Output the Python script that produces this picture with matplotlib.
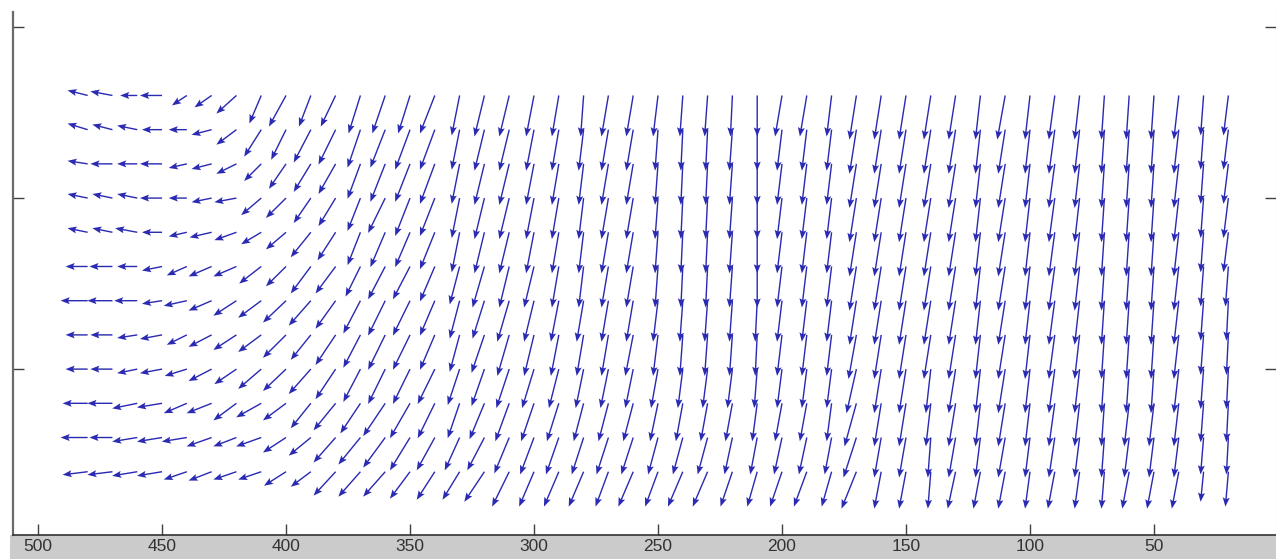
import numpy as np
import matplotlib.pyplot as plt
from matplotlib.patches import Rectangle

# grid of the field
x_cols = [480, 470, 460, 450, 440, 430, 420, 410, 400, 390, 380, 370, 360, 350, 340,
          330, 320, 310, 300, 290, 280, 270, 260, 250, 240, 230, 220, 210, 200, 190, 180,
          170, 160, 150, 140, 130, 120, 110, 100, 90, 80, 70, 60, 50, 40, 30, 20]
y_rows = [180, 170, 160, 150, 140, 130, 120, 110, 100, 90, 80, 70]
x_ticks = [500, 450, 400, 350, 300, 250, 200, 150, 100, 50]
y_ticks = [100, 150, 200]

# vector components, one list per row (top row first)
u_rows = [
    [8.1, 8.9, 6.9, 8.9, 6.0, 6.9, 8.1, 4.8, 6.9, 4.8, 6.0, 4.8, 5.2, 4.8, 6.0,
     3.2, 4.0, 4.0, 3.2, 2.8, 1.2, 2.8, 2.8, 2.0, 1.2, 1.2, 0.8, 0.0, 2.8, 2.8, 2.0,
     2.8, 2.8, 2.8, 2.8, 2.8, 2.0, 3.2, 2.0, 2.4, 2.0, 1.2, 1.2, 1.2, 2.0, 1.2, 2.0],
    [8.1, 8.1, 8.1, 8.1, 7.3, 8.1, 8.1, 6.9, 6.0, 6.9, 6.9, 5.2, 6.0, 6.0, 6.0,
     3.2, 4.0, 4.0, 3.2, 2.8, 2.0, 2.8, 2.8, 1.2, 0.8, 0.8, 1.2, 0.0, 2.0, 2.0, 2.0,
     2.8, 2.8, 2.8, 2.8, 2.8, 2.0, 2.8, 2.0, 2.4, 2.0, 1.2, 1.2, 1.2, 2.0, 1.2, 2.0],
    [8.1, 8.9, 8.1, 8.9, 7.3, 8.1, 8.1, 6.9, 6.9, 6.9, 6.9, 5.2, 6.0, 6.0, 6.0,
     3.2, 4.0, 4.0, 3.2, 2.8, 2.0, 2.8, 2.8, 1.2, 0.8, 0.8, 1.2, 0.0, 2.0, 2.0, 2.0,
     2.8, 2.8, 2.8, 2.8, 2.8, 2.0, 2.8, 2.0, 2.4, 2.0, 1.2, 1.2, 1.2, 2.0, 1.2, 2.0],
    [8.1, 8.1, 8.1, 8.9, 7.3, 8.1, 8.9, 8.1, 8.1, 6.9, 6.9, 5.2, 6.9, 6.0, 6.0,
     3.2, 4.0, 4.0, 3.2, 2.8, 2.0, 2.8, 2.8, 1.2, 0.8, 0.8, 1.2, 0.0, 2.0, 2.0, 2.0,
     2.8, 2.8, 2.8, 2.8, 2.8, 2.0, 2.8, 2.0, 2.4, 2.0, 1.2, 1.2, 1.2, 2.0, 1.2, 2.0],
    [8.1, 8.1, 8.9, 8.1, 7.3, 8.9, 8.9, 8.1, 8.1, 8.1, 7.3, 5.2, 6.0, 6.0, 6.0,
     3.2, 4.0, 4.0, 3.2, 2.8, 2.0, 2.8, 2.8, 1.2, 0.8, 0.8, 1.2, 0.0, 2.0, 2.0, 2.0,
     2.8, 2.8, 2.8, 2.8, 2.8, 2.0, 2.8, 2.0, 2.4, 2.0, 1.2, 1.2, 1.2, 2.0, 1.2, 2.0],
    [8.9, 9.3, 8.1, 8.1, 8.1, 9.3, 9.3, 8.9, 8.1, 8.1, 8.1, 6.0, 6.9, 6.9, 6.0,
     4.0, 4.8, 4.0, 4.0, 2.8, 2.0, 2.8, 2.8, 1.2, 0.8, 0.8, 1.2, 0.0, 2.0, 2.0, 2.0,
     2.8, 2.8, 2.8, 2.8, 2.8, 2.0, 2.8, 2.0, 2.4, 2.0, 1.2, 1.2, 1.2, 2.0, 1.2, 1.2],
    [10.9, 10.1, 9.3, 8.1, 9.3, 9.3, 9.3, 9.3, 9.3, 8.9, 8.1, 6.9, 6.9, 6.9, 6.0,
     4.0, 4.8, 4.8, 4.0, 3.2, 2.8, 2.8, 2.8, 2.0, 1.2, 1.2, 1.2, 0.8, 2.0, 2.0, 2.0,
     2.8, 2.8, 2.8, 2.8, 2.8, 2.0, 2.8, 2.0, 2.4, 2.0, 1.2, 1.2, 1.2, 2.0, 1.2, 0.8],
    [8.9, 8.9, 8.1, 8.9, 8.1, 9.3, 9.3, 9.3, 9.3, 8.1, 8.1, 6.9, 6.9, 6.9, 6.0,
     4.0, 5.2, 4.8, 4.0, 3.2, 2.8, 2.8, 3.2, 2.0, 1.2, 1.2, 1.2, 0.8, 2.0, 2.0, 2.0,
     3.2, 2.8, 2.8, 2.8, 2.8, 2.0, 2.8, 2.0, 2.4, 2.0, 1.2, 1.2, 1.2, 2.0, 1.2, 0.8],
    [8.9, 8.9, 8.1, 8.9, 8.9, 9.3, 8.9, 9.3, 9.3, 8.9, 8.1, 6.9, 6.9, 6.9, 6.9,
     4.8, 5.2, 5.2, 4.8, 4.0, 3.2, 3.2, 3.2, 2.8, 2.0, 2.0, 2.0, 1.2, 2.0, 2.0, 2.0,
     4.0, 2.8, 2.8, 2.0, 2.8, 2.0, 2.8, 2.0, 2.4, 2.0, 1.2, 1.2, 1.2, 2.0, 1.2, 0.8],
    [10.1, 10.1, 10.1, 10.1, 9.3, 10.1, 9.3, 10.1, 9.3, 8.1, 8.9, 8.1, 8.9, 8.1, 6.9,
     4.8, 6.0, 5.6, 5.2, 4.8, 4.0, 4.0, 4.0, 3.2, 2.8, 2.8, 2.8, 2.0, 2.8, 2.8, 2.0,
     4.8, 2.8, 2.8, 2.0, 2.8, 2.0, 2.8, 2.0, 2.4, 2.0, 1.2, 2.0, 2.0, 2.0, 1.2, 0.8],
    [10.9, 9.3, 10.1, 10.1, 10.1, 10.1, 9.3, 10.1, 9.3, 8.9, 8.9, 8.9, 8.9, 8.1, 7.3,
     6.0, 6.9, 6.0, 5.6, 5.2, 4.8, 4.8, 4.8, 4.0, 4.0, 4.0, 3.2, 2.8, 3.2, 3.2, 2.8,
     5.2, 2.8, 2.8, 1.2, 2.8, 2.0, 2.8, 2.0, 2.4, 2.0, 1.2, 2.0, 2.0, 2.0, 1.2, 0.8],
    [10.1, 10.1, 10.1, 10.1, 9.3, 9.3, 9.3, 9.3, 8.9, 8.1, 8.9, 8.9, 8.9, 8.1, 7.3,
     6.9, 8.1, 6.9, 6.0, 6.0, 6.0, 5.2, 6.0, 5.2, 6.0, 6.0, 4.8, 4.0, 4.8, 5.2, 4.0,
     6.0, 2.8, 2.8, 1.2, 3.2, 2.8, 2.8, 2.0, 2.8, 2.0, 1.2, 2.8, 2.8, 2.8, 1.2, 1.2],
]

v_rows = [
    [1.5, 1.2, 0.0, 0.0, -2.9, -3.5, -5.3, -8.2, -9.1, -9.1, -9.1, -11.1, -11.1, -11.1, -11.1,
     -11.7, -12.0, -12.0, -12.0, -12.0, -12.0, -12.0, -12.0, -12.0, -12.0, -12.0, -12.0, -12.0, -12.0, -12.0, -12.0,
     -12.9, -12.9, -12.9, -12.9, -12.9, -12.9, -12.9, -12.9, -12.9, -12.9, -12.9, -12.9, -12.9, -12.9, -11.7, -11.7],
    [1.8, 1.5, 1.2, 0.0, 0.0, -1.5, -4.4, -7.9, -8.8, -9.6, -10.2, -11.1, -11.1, -11.7, -11.7,
     -11.7, -12.0, -12.0, -12.0, -12.0, -12.0, -12.0, -12.0, -12.0, -12.0, -12.0, -12.0, -12.0, -12.0, -12.0, -12.0,
     -12.9, -12.9, -12.9, -12.9, -12.9, -12.9, -12.9, -12.9, -12.9, -12.9, -12.9, -12.9, -12.9, -12.9, -11.7, -11.7],
    [0.9, 0.0, 0.0, 0.0, -1.2, -1.5, -2.9, -5.0, -7.3, -8.2, -8.8, -10.2, -11.1, -11.1, -11.7,
     -11.7, -12.0, -12.0, -12.0, -12.0, -12.0, -12.0, -12.0, -12.0, -12.0, -12.0, -12.0, -12.0, -12.0, -12.0, -12.0,
     -12.9, -12.9, -12.9, -12.9, -12.9, -12.9, -12.9, -12.9, -12.9, -12.9, -12.9, -12.9, -12.9, -12.9, -11.7, -11.7],
    [1.2, 1.2, 1.2, 0.0, 0.0, -1.2, -1.2, -5.0, -5.8, -7.3, -8.2, -9.6, -10.2, -11.1, -11.1,
     -11.7, -12.0, -12.0, -12.0, -12.0, -12.0, -12.0, -12.0, -12.0, -12.0, -12.0, -12.0, -12.0, -12.0, -12.0, -12.0,
     -12.9, -12.9, -12.9, -12.9, -12.9, -12.9, -12.9, -12.9, -12.9, -12.9, -12.9, -12.9, -12.9, -12.9, -11.7, -11.7],
    [1.2, 1.2, 1.2, 0.0, -1.2, -1.5, -2.3, -3.5, -5.0, -7.3, -8.2, -9.6, -10.2, -10.2, -10.8,
     -11.7, -12.0, -12.0, -12.0, -12.0, -12.0, -12.0, -12.0, -12.0, -12.0, -12.0, -12.0, -12.0, -12.0, -12.0, -12.0,
     -12.9, -12.9, -12.9, -12.9, -12.9, -12.9, -12.9, -12.9, -12.9, -12.9, -12.9, -12.9, -12.9, -12.9, -11.7, -11.7],
    [0.0, 0.0, 0.0, -1.2, -2.6, -2.9, -2.9, -5.0, -5.8, -7.9, -7.9, -8.8, -9.6, -9.6, -10.2,
     -11.1, -12.0, -12.0, -12.0, -12.0, -12.0, -12.0, -12.0, -12.0, -12.0, -12.0, -12.0, -12.0, -12.0, -12.0, -12.0,
     -12.9, -12.9, -12.9, -12.9, -12.9, -12.9, -12.9, -12.9, -12.9, -12.9, -12.9, -12.9, -12.9, -12.9, -11.7, -11.7],
    [0.0, 0.0, 0.0, -0.9, -1.5, -2.9, -4.4, -5.0, -6.4, -7.3, -8.2, -9.6, -10.2, -10.2, -10.2,
     -11.1, -11.1, -12.0, -12.0, -12.0, -12.0, -12.0, -12.0, -12.0, -12.0, -12.0, -12.0, -12.0, -12.0, -12.0, -12.0,
     -12.9, -12.9, -12.9, -12.9, -12.9, -12.9, -12.9, -12.9, -12.9, -12.9, -12.9, -12.9, -12.9, -12.9, -11.7, -11.7],
    [0.0, 0.0, -0.9, -1.2, -2.9, -3.5, -4.4, -5.0, -6.7, -7.3, -8.8, -9.6, -10.2, -10.2, -10.2,
     -10.8, -11.1, -12.0, -12.0, -12.0, -12.0, -12.0, -12.0, -12.0, -12.0, -12.0, -12.0, -12.0, -12.0, -12.0, -12.0,
     -12.9, -12.9, -12.9, -12.9, -12.9, -12.9, -12.9, -12.9, -12.9, -12.9, -12.9, -12.9, -12.9, -12.9, -11.7, -11.7],
    [0.0, 0.0, -1.2, -1.2, -2.0, -3.5, -4.4, -5.8, -6.4, -7.3, -8.8, -9.6, -10.2, -10.2, -10.2,
     -10.5, -10.8, -11.4, -11.4, -11.4, -11.4, -11.4, -11.4, -11.4, -11.4, -11.4, -11.4, -11.4, -11.4, -11.4, -11.4,
     -12.9, -12.9, -12.9, -12.9, -12.9, -12.9, -12.9, -12.9, -12.9, -12.9, -12.9, -12.9, -12.9, -12.9, -11.7, -11.7],
    [0.0, 0.0, -1.5, -1.2, -2.9, -2.9, -5.0, -4.1, -5.0, -7.3, -7.9, -8.8, -9.6, -10.2, -10.2,
     -10.2, -10.5, -11.1, -11.1, -11.1, -11.1, -11.1, -11.1, -11.1, -11.1, -11.1, -11.1, -11.1, -11.1, -11.1, -11.1,
     -12.6, -12.6, -12.6, -12.6, -12.6, -12.6, -12.6, -12.6, -12.6, -12.6, -12.6, -12.6, -12.6, -12.6, -11.4, -11.4],
    [0.0, 0.0, -1.2, -1.2, -1.2, -2.6, -2.6, -2.6, -4.4, -5.3, -7.3, -7.9, -8.8, -9.6, -9.6,
     -9.6, -9.6, -10.5, -10.8, -10.8, -10.8, -10.8, -10.8, -10.8, -10.8, -10.8, -10.8, -10.8, -10.8, -10.8, -10.8,
     -11.7, -11.7, -11.7, -11.7, -11.7, -11.7, -11.7, -11.7, -11.7, -11.7, -11.7, -11.7, -11.7, -11.7, -10.8, -10.8],
    [-0.9, -0.9, -1.2, -1.2, -2.3, -2.6, -2.3, -2.3, -4.1, -4.4, -7.0, -7.3, -7.3, -7.9, -8.2,
     -8.2, -8.8, -10.2, -10.2, -10.2, -10.2, -10.2, -10.2, -10.2, -10.2, -10.2, -10.2, -10.2, -10.2, -10.2, -10.2,
     -10.8, -10.8, -10.8, -10.8, -10.8, -10.8, -10.8, -10.8, -10.8, -10.8, -10.8, -10.8, -10.8, -10.8, -8.8, -10.2],
]

X, Y = np.meshgrid(x_cols, y_rows)
U = np.array(u_rows)
V = np.array(v_rows)

W, H = 1276, 559
fig = plt.figure(figsize=(W / 100, H / 100), dpi=100, facecolor='white')
# grey strip of the figure under the axes
fig.patches.append(Rectangle((10 / W, 0), 1, 24 / H, transform=fig.transFigure,
                             facecolor='#cbcbcb', edgecolor='none', zorder=-5))

ax = fig.add_axes([13 / W, 24 / H, (1275.5 - 13) / W, (535 - 12) / H])
ax.set_zorder(2)
ax.quiver(X, Y, U, V, angles='xy', scale_units='xy', scale=1,
          units='dots', width=1.4, headwidth=5, headlength=6.5, headaxislength=5.5,
          color='#2a2ab2')

ax.set_xlim(510.1, 1.0)
ax.set_ylim(51.5, 204.4)
ax.set_xticks(x_ticks)
ax.set_yticks(y_ticks)
ax.tick_params(axis='x', direction='in', length=8, width=1, color='#404040',
               labelsize=12.5, labelcolor='#333333', pad=3, top=False)
ax.tick_params(axis='y', direction='in', length=8, width=1, color='#404040',
               labelleft=False, right=True)
for lab in ax.get_xticklabels():
    lab.set_fontfamily('Liberation Sans')

ax.spines['top'].set_visible(False)
ax.spines['left'].set_color('#6a6a6a')
ax.spines['left'].set_linewidth(1.6)
ax.spines['bottom'].set_color('#333333')
ax.spines['bottom'].set_linewidth(1.2)
ax.spines['right'].set_color('#bbbbbb')

fig.savefig('out.png', dpi=100, facecolor='white')
